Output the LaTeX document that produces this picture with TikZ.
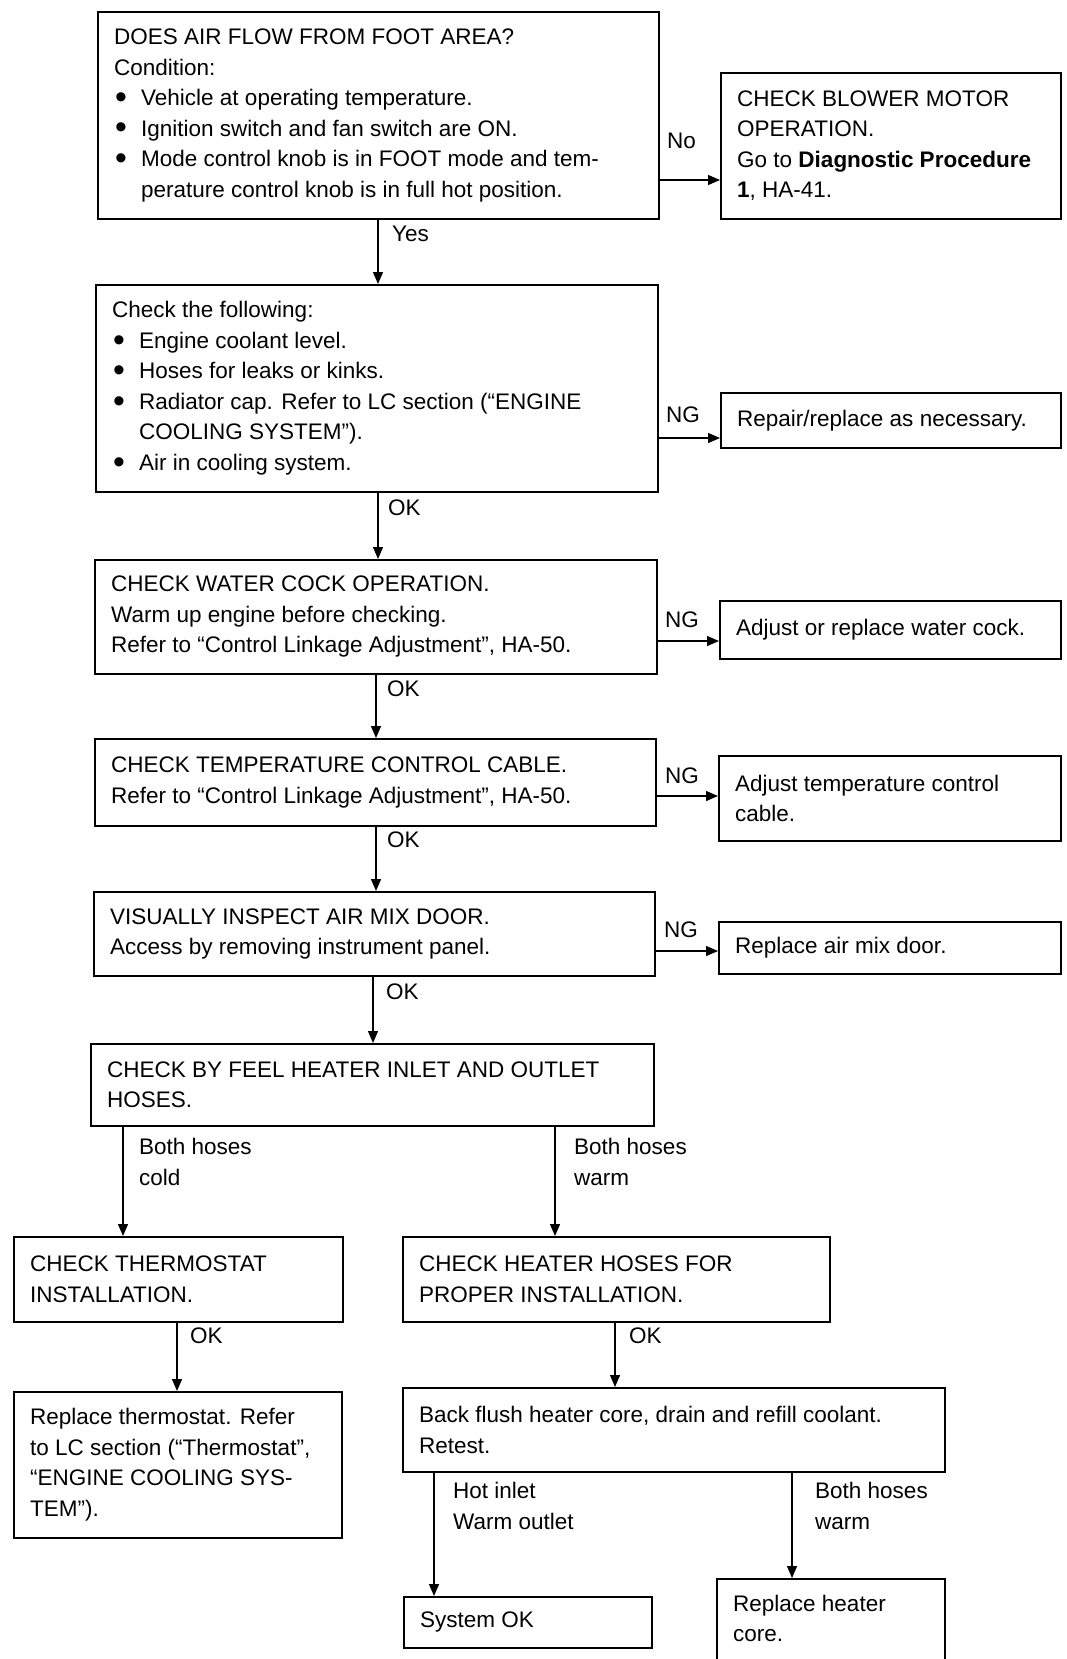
\documentclass[tikz,border=0pt]{standalone}
\usepackage{fontspec}
\usepackage{graphicx}
\setmainfont{Liberation Sans}
\usetikzlibrary{arrows.meta}
\newcommand\bul{\makebox[27pt][l]{\hspace{1pt}\raisebox{-2.8pt}{\scalebox{1.5}{•}}}}
\newcommand\ind{\hspace*{27pt}}
\newcommand\flowbox[6]{%
  \node[box,minimum width=#4pt,minimum height=#5pt] (#1) at (#2,#3) {};
  \node[txt] (#1t) at ([xshift=17pt]#1.west) {#6};}
\tikzset{
 box/.style={draw,line width=1.6pt,inner sep=0pt,anchor=north west},
 txt/.style={inner sep=0pt,anchor=west,align=left,font=\fontsize{22.5}{30.5}\selectfont},
 lbl/.style={inner sep=0pt,anchor=west,align=left,font=\fontsize{22.5}{30.5}\selectfont},
 arr/.style={line width=1.3pt,-{Triangle[length=12pt,width=10pt]}}
}
\begin{document}
\begin{tikzpicture}[x=1pt,y=-1pt]
\fill[white] (0,0) rectangle (1067,1659);
\useasboundingbox (0,0) rectangle (1067,1659);
\clip (0,0) rectangle (1067,1659);

\flowbox{b1}{97}{11}{561}{207}{DOES AIR FLOW FROM FOOT AREA?\\Condition:\\\bul Vehicle at operating temperature.\\\bul Ignition switch and fan switch are ON.\\\bul Mode control knob is in FOOT mode and tem-\\\ind perature control knob is in full hot position.}
\flowbox{blower}{720}{72}{340}{146}{CHECK BLOWER MOTOR\\OPERATION.\\Go to \textbf{Diagnostic Procedure}\\\textbf{1}, HA-41.}
\flowbox{b2}{95}{284}{562}{207}{Check the following:\\\bul Engine coolant level.\\\bul Hoses for leaks or kinks.\\\bul Radiator cap. Refer to LC section (“ENGINE\\\ind COOLING SYSTEM”).\\\bul Air in cooling system.}
\flowbox{repair}{720}{392}{340}{55}{Repair/replace as necessary.}
\flowbox{b3}{94}{559}{562}{114}{CHECK WATER COCK OPERATION.\\Warm up engine before checking.\\Refer to “Control Linkage Adjustment”, HA-50.}
\flowbox{water}{719}{600}{341}{58}{Adjust or replace water cock.}
\flowbox{b4}{94}{738}{561}{87}{CHECK TEMPERATURE CONTROL CABLE.\\Refer to “Control Linkage Adjustment”, HA-50.}
\flowbox{temp}{718}{755}{342}{85}{Adjust temperature control\\cable.}
\flowbox{b5}{93}{891}{561}{84}{VISUALLY INSPECT AIR MIX DOOR.\\Access by removing instrument panel.}
\flowbox{airmix}{718}{921}{342}{52}{Replace air mix door.}
\flowbox{b6}{90}{1043}{563}{82}{CHECK BY FEEL HEATER INLET AND OUTLET\\HOSES.}
\flowbox{thermo}{13}{1236}{329}{85}{CHECK THERMOSTAT\\INSTALLATION.}
\flowbox{hoses}{402}{1236}{427}{85}{CHECK HEATER HOSES FOR\\PROPER INSTALLATION.}
\flowbox{replth}{13}{1391}{328}{146}{Replace thermostat. Refer\\to LC section (“Thermostat”,\\“ENGINE COOLING SYS-\\TEM”).}
\flowbox{flush}{402}{1387}{542}{84}{Back flush heater core, drain and refill coolant.\\Retest.}
\flowbox{sysok}{403}{1596}{248}{51}{System OK}
\flowbox{core}{716}{1578}{228}{110}{Replace heater\\core.\\\mbox{}}

% helper coordinates
\coordinate (yNo) at (0,180);
\coordinate (y2) at (0,438);
\coordinate (y3) at (0,641);
\coordinate (y4) at (0,796);
\coordinate (y5) at (0,951);
\coordinate (x1) at (378,0);
\coordinate (x2) at (378,0);
\coordinate (x3) at (376,0);
\coordinate (x4) at (376,0);
\coordinate (x5) at (373,0);
\coordinate (xL) at (123,0);
\coordinate (xR) at (555,0);
\coordinate (xTh) at (177,0);
\coordinate (xHo) at (615,0);
\coordinate (xFl) at (434,0);
\coordinate (xFr) at (792,0);

\draw[arr] (b1.east |- yNo) -- (blower.west |- yNo);
\draw[arr] (b1.south -| x1) -- (b2.north -| x1);
\draw[arr] (b2.east |- y2) -- (repair.west |- y2);
\draw[arr] (b2.south -| x2) -- (b3.north -| x2);
\draw[arr] (b3.east |- y3) -- (water.west |- y3);
\draw[arr] (b3.south -| x3) -- (b4.north -| x3);
\draw[arr] (b4.east |- y4) -- (temp.west |- y4);
\draw[arr] (b4.south -| x4) -- (b5.north -| x4);
\draw[arr] (b5.east |- y5) -- (airmix.west |- y5);
\draw[arr] (b5.south -| x5) -- (b6.north -| x5);
\draw[arr] (b6.south -| xL) -- (thermo.north -| xL);
\draw[arr] (b6.south -| xR) -- (hoses.north -| xR);
\draw[arr] (thermo.south -| xTh) -- (replth.north -| xTh);
\draw[arr] (hoses.south -| xHo) -- (flush.north -| xHo);
\draw[arr] (flush.south -| xFl) -- (sysok.north -| xFl);
\draw[arr] (flush.south -| xFr) -- (core.north -| xFr);

\node[lbl] (lNo) at (667,141) {No};
\node[lbl] (lYes) at (392,234) {Yes};
\node[lbl] (lNG2) at (666,415) {NG};
\node[lbl] (lOK2) at (388,508) {OK};
\node[lbl] (lNG3) at (665,620) {NG};
\node[lbl] (lOK3) at (387,689) {OK};
\node[lbl] (lNG4) at (665,776) {NG};
\node[lbl] (lOK4) at (387,840) {OK};
\node[lbl] (lNG5) at (664,930) {NG};
\node[lbl] (lOK5) at (386,992) {OK};
\node[lbl] (lCold) at (139,1162) {Both hoses\\cold};
\node[lbl] (lWarm) at (574,1162) {Both hoses\\warm};
\node[lbl] (lOKth) at (190,1336) {OK};
\node[lbl] (lOKho) at (629,1336) {OK};
\node[lbl] (lHot) at (453,1506) {Hot inlet\\Warm outlet};
\node[lbl] (lWarm2) at (815,1506) {Both hoses\\warm};
\end{tikzpicture}
\end{document}
